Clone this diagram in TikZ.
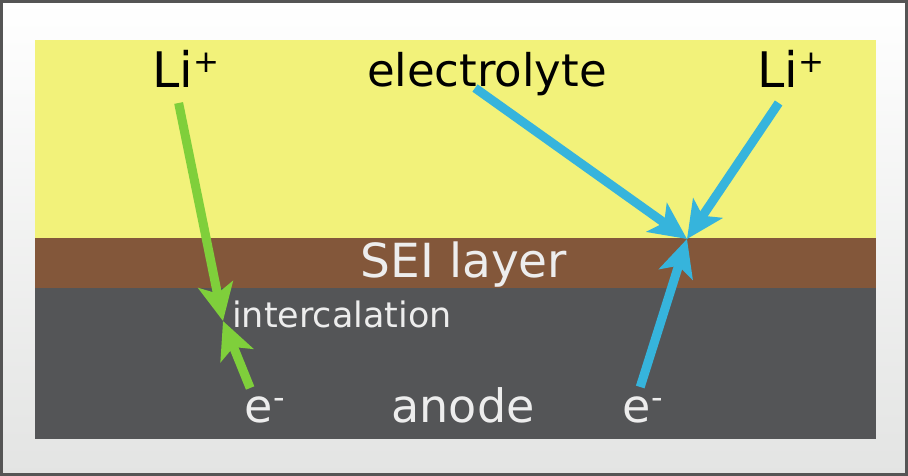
\documentclass[tikz,border=0pt]{standalone}
\usepackage{fontspec}
\setmainfont{DejaVu Sans}
\usetikzlibrary{arrows.meta,positioning}
\definecolor{electroyellow}{HTML}{F2F27A}
\definecolor{seibrown}{HTML}{83573A}
\definecolor{anodegray}{HTML}{545557}
\definecolor{ligreen}{HTML}{7FCF3B}
\definecolor{liblue}{HTML}{36B4DC}
\definecolor{framegray}{HTML}{555555}
\definecolor{bgbottom}{HTML}{E3E4E3}
\definecolor{labelwhite}{HTML}{EDEDED}
\newcommand{\fsz}[1]{\fontsize{#1}{#1}\selectfont}

\begin{document}
\begin{tikzpicture}[x=1pt,y=-1pt]%[grow=right]
		\tikzset{darklabel/.style={text=black,inner sep=0pt,font=\fsz{49}}}
		\tikzset{lightlabel/.style={text=labelwhite,inner sep=0pt,font=\fsz{46}}}
		\tikzset{ionarrow/.style=
			{line width=9pt,
				-{Stealth[length=37pt,width=35pt,inset=9pt]}}}
		\useasboundingbox (0,0) rectangle (908,476);
		\shade[top color=white,bottom color=bgbottom] (0,0) rectangle (908,476);
		\draw[framegray,line width=3pt] (1.5,1.5) rectangle (906.5,474.5);
		% layers
		\fill[electroyellow] (35,40) rectangle (876,238);
		\fill[seibrown] (35,238) rectangle (876,288);
		\fill[anodegray] (35,288) rectangle (876,439);
		% labels
		\node[darklabel,anchor=base west] (lileft) at (152,88) {Li\raisebox{15pt}{\fsz{31}+}};
		\node[darklabel,anchor=base west] (liright) at (757,88) {Li\raisebox{15pt}{\fsz{31}+}};
		\node[darklabel,anchor=base,font=\fsz{45}] (electrolyte) at (487,87) {electrolyte};
		\node[lightlabel,anchor=base,font=\fsz{47}] (sei) at (464,277) {SEI layer};
		\node[lightlabel,anchor=base,font=\fsz{35}] (intercal) at (342,327) {intercalation};
		\node[lightlabel,anchor=base west] (eleft) at (244.5,422) {e\raisebox{14pt}{\fsz{32}-}};
		\node[lightlabel,anchor=base] (anode) at (463,422) {anode};
		\node[lightlabel,anchor=base west] (eright) at (622.5,422) {e\raisebox{14pt}{\fsz{32}-}};
		\coordinate (gmeet) at (223,321);
		\coordinate (bmeet) at (687,239);
		% arrows
		\draw[ionarrow,ligreen] ([xshift=-7pt,yshift=-15pt]lileft.base) -- (gmeet);
		\draw[ionarrow,ligreen] ([xshift=-14.5pt,yshift=34pt]eleft.base) -- (gmeet);
		\draw[ionarrow,liblue] ([xshift=-12pt,yshift=-1pt]electrolyte.base) -- (bmeet);
		\draw[ionarrow,liblue] ([xshift=-12pt,yshift=-15pt]liright.base) -- (bmeet);
		\draw[ionarrow,liblue] ([xshift=-2.4pt,yshift=35pt]eright.base) -- (bmeet);
	\end{tikzpicture}
\end{document}
